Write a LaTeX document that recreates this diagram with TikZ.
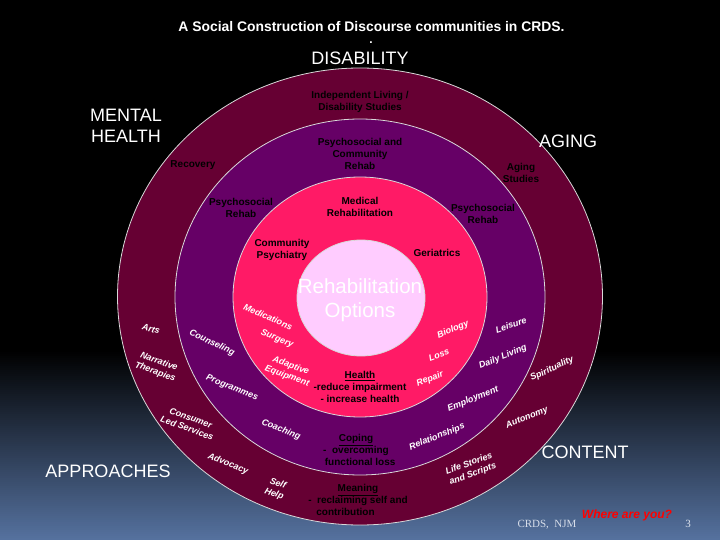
\documentclass[tikz,border=0pt]{standalone}
\usepackage{fontspec}
\setmainfont{Liberation Sans}
\newfontfamily\serifpart{Liberation Serif}
\usetikzlibrary{shapes.geometric,positioning}
\definecolor{outerring}{HTML}{660033}
\definecolor{middlering}{HTML}{660066}
\definecolor{innerring}{HTML}{FF1A66}
\definecolor{corering}{HTML}{FFCCFF}
\definecolor{skyblue}{HTML}{5A78A8}
\begin{document}
\begin{tikzpicture}[x=1pt,y=-1pt,
	ring/.style = {ellipse, inner sep=0pt, draw=white!85!black, line width=.8pt},
	heading/.style = {align=center, white, font=\fontsize{18}{21}\selectfont},
	darklabel/.style = {align=center, black, inner sep=0pt, font=\fontsize{10}{12}\selectfont\bfseries},
	lightlabel/.style = {align=center, white, inner sep=0pt, font=\fontsize{9}{11}\selectfont\bfseries\itshape},
	]
	\useasboundingbox (0,0) rectangle (720,540);
	% backdrop
	\fill[black] (0,0) rectangle (720,540);
	\foreach \i in {0,...,95}
		\fill[skyblue!\i!black] (0,{350+2*\i}) rectangle (720,540);
	% rings
	\node [ring, fill=outerring, minimum width=485pt, minimum height=457pt] (outer) at (360,296.5) {};
	\node [ring, fill=middlering, minimum width=370pt, minimum height=356pt] (middle) at (360,297) {};
	\node [ring, fill=innerring, minimum width=254pt, minimum height=240pt] (inner) at (360,297) {};
	\node [ring, fill=corering, minimum width=128pt, minimum height=116pt] (core) at (361,298) {};
	\node [align=center, white, font=\fontsize{20.5}{24}\selectfont] (options) at (360,300) {Rehabilitation\\Options};
	% title and headings
	\node [white, font=\fontsize{13.9}{16}\selectfont\bfseries] (title) at (371.5,27) {A Social Construction of Discourse communities in CRDS.};
	\node [white, font=\fontsize{12}{15}\selectfont\bfseries] (dot) at (371,43) {.};
	\node [heading] (disability) at (360,58) {DISABILITY};
	\node [heading] (mental) at (126,126) {MENTAL\\HEALTH};
	\node [heading] (aging) at (568,141) {AGING};
	\node [heading] (approaches) at (108,471) {APPROACHES};
	\node [heading] (content) at (585,452) {CONTENT};
	% upper labels
	\node [darklabel] (independent) at (360,102) {Independent Living /\\Disability Studies};
	\node [darklabel] (community) at (360,154) {Psychosocial and\\Community\\Rehab};
	\node [darklabel] (recovery) at (193,165) {Recovery};
	\node [darklabel] (psychleft) at (241,208) {Psychosocial\\Rehab};
	\node [darklabel] (psychright) at (483,214) {Psychosocial\\Rehab};
	\node [darklabel] (agingstudies) at (521,173) {Aging\\Studies};
	\node [darklabel] (medical) at (360,207) {Medical\\Rehabilitation};
	\node [darklabel] (psychiatry) at (282,250) {Community\\Psychiatry};
	\node [darklabel] (geriatrics) at (437,253) {Geriatrics};
	% lower middle labels
	\node [darklabel] (health) at (360,387) {\underline{Health}\\-reduce impairment\\- increase health};
	\node [darklabel] (coping) at (356,450) {\underline{Coping}\\-\ \ overcoming\\\ \ \ functional loss};
	\node [darklabel] (meaning) at (358,500) {\underline{Meaning}\\-\ \ reclaiming self and\\contribution\hspace*{25pt}};
	% left side
	\node [lightlabel, rotate=-23] (medications) at (268,317) {Medications};
	\node [lightlabel, rotate=-22] (surgery) at (277,339) {Surgery};
	\node [lightlabel, rotate=-20] (adaptive) at (289,371) {Adaptive\\Equipment};
	\node [lightlabel, rotate=-15] (arts) at (151,329) {Arts};
	\node [lightlabel, rotate=-20] (narrative) at (157,367) {Narrative\\Therapies};
	\node [lightlabel, rotate=-25] (counseling) at (212,343) {Counseling};
	\node [lightlabel, rotate=-22] (programmes) at (232,388) {Programmes};
	\node [lightlabel, rotate=-22] (coaching) at (281,430) {Coaching};
	\node [lightlabel, rotate=-20] (consumer) at (189,423) {Consumer\\Led Services};
	\node [lightlabel, rotate=-22] (advocacy) at (228,464) {Advocacy};
	\node [lightlabel, rotate=-20] (selfhelp) at (276,489) {Self\\Help};
	% right side
	\node [lightlabel, rotate=22] (biology) at (453,330) {Biology};
	\node [lightlabel, rotate=20] (loss) at (439,355) {Loss};
	\node [lightlabel, rotate=22] (repair) at (430,379) {Repair};
	\node [lightlabel, rotate=18] (leisure) at (511,325) {Leisure};
	\node [lightlabel, rotate=22] (daily) at (503,357) {Daily Living};
	\node [lightlabel, rotate=22] (employment) at (473,399) {Employment};
	\node [lightlabel, rotate=22] (relationships) at (437,437) {Relationships};
	\node [lightlabel, rotate=25] (spirituality) at (552,369) {Spirituality};
	\node [lightlabel, rotate=22] (autonomy) at (527,418) {Autonomy};
	\node [lightlabel, rotate=20] (lifestories) at (471,469) {Life Stories\\and Scripts};
	% footer
	\node [red, font=\fontsize{12}{14}\selectfont\bfseries\itshape] (where) at (627,515) {Where are you?};
	\node [white!75!skyblue, font=\fontsize{11}{13}\selectfont\serifpart] (crds) at (547,525) {CRDS,\ \ NJM};
	\node [white!80!skyblue, font=\fontsize{11}{13}\selectfont\serifpart] (page) at (688,524) {3};
\end{tikzpicture}
\end{document}
